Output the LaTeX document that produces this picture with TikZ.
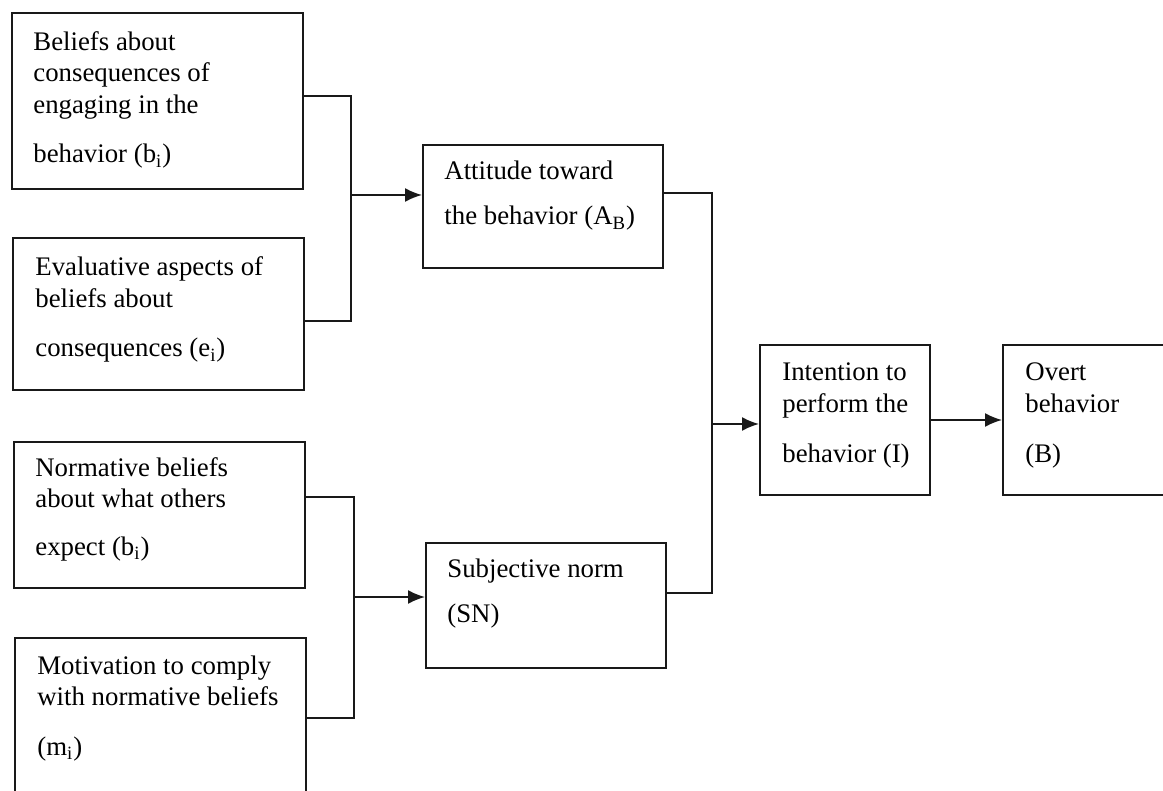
\documentclass[tikz,border=0pt]{standalone}
\usepackage{fontspec}
\setmainfont{Liberation Serif}
\usetikzlibrary{arrows.meta,positioning,fit}
\begin{document}
\begin{tikzpicture}[x=0.5pt,y=-0.5pt,
  box/.style={draw=black!90,line width=1pt,rectangle,inner sep=0pt},
  txt/.style={anchor=base west,inner sep=0pt,align=left,
    font=\fontsize{13.4}{15.75}\selectfont},
  conn/.style={draw=black!90,line width=0.9pt},
  arr/.style={conn,-{Latex[length=8.5pt,width=7pt]}}]
\useasboundingbox (0,0) rectangle (1163,791);
\clip (0,0) rectangle (1163,791);
% boxes
\node[box,fit={(12,13) (303,189)}] (b1) {};
\node[box,fit={(13,238) (304,390)}] (b2) {};
\node[box,fit={(14,442) (305,588)}] (b3) {};
\node[box,fit={(15,638) (306,810)}] (b4) {};
\node[box,fit={(423,145) (663,268)}] (att) {};
\node[box,fit={(426,543) (666,668)}] (sn) {};
\node[box,fit={(760,345) (930,495)}] (int) {};
\node[box,fit={(1003,345) (1180,495)}] (ov) {};
% texts (anchored at the baseline of the last line)
\node[txt] (t1) at (33,163) {Beliefs about\\consequences of\\engaging in the\\[9pt]behavior (b\textsubscript{i})};
\node[txt] (t2) at (35,357) {Evaluative aspects of\\beliefs about\\[9pt]consequences (e\textsubscript{i})};
\node[txt] (t3) at (35,555) {Normative beliefs\\about what others\\[8pt]expect (b\textsubscript{i})};
\node[txt] (t4) at (37,755) {Motivation to comply\\with normative beliefs\\[9pt](m\textsubscript{i})};
\node[txt] (t5) at (444,225) {Attitude toward\\[7pt]the behavior (A\textsubscript{B})};
\node[txt] (t6) at (447,622) {Subjective norm\\[6.5pt](SN)};
\node[txt] (t7) at (782,462) {Intention to\\perform the\\[9pt]behavior (I)};
\node[txt] (t8) at (1025,462) {Overt\\behavior\\[9pt](B)};
% junctions
\coordinate (ja1) at (351,96);
\coordinate (ja2) at (351,321);
\coordinate (ja) at (351,195);
\coordinate (jb1) at (354,497);
\coordinate (jb2) at (354,718);
\coordinate (jb) at (354,597);
\coordinate (jc1) at (712,193);
\coordinate (jc2) at (712,593);
\coordinate (jc) at (712,424);
\coordinate (jd) at (930,420);
% connectors
\draw[conn] (b1.east |- ja1) -- (ja1) -- (ja2) -- (b2.east |- ja2);
\draw[arr] (ja) -- (att.west |- ja);
\draw[conn] (b3.east |- jb1) -- (jb1) -- (jb2) -- (b4.east |- jb2);
\draw[arr] (jb) -- (sn.west |- jb);
\draw[conn] (att.east |- jc1) -- (jc1) -- (jc2) -- (sn.east |- jc2);
\draw[arr] (jc) -- (int.west |- jc);
\draw[arr] (int.east |- jd) -- (ov.west |- jd);
\end{tikzpicture}
\end{document}
